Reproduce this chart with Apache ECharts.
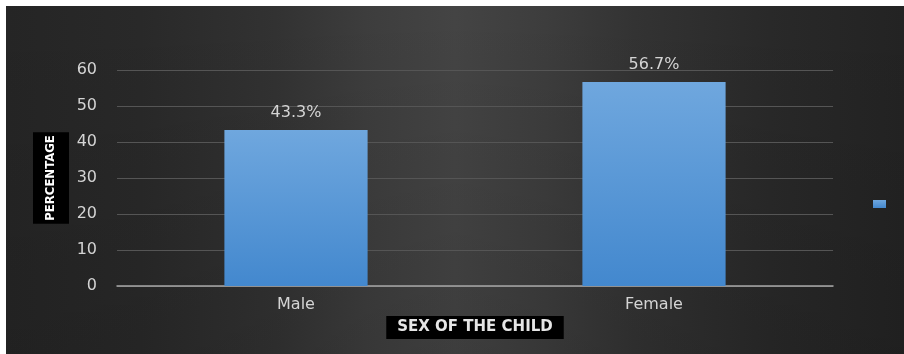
<!DOCTYPE html>
<html>
<head>
<meta charset="utf-8">
<script src="https://cdn.jsdelivr.net/npm/echarts@6/dist/echarts.min.js"></script>
<style>
  html, body { margin: 0; padding: 0; background: #fff; }
  #chart { width: 904px; height: 354px; }
</style>
</head>
<body>
<div id="chart"></div>
<script>
const categories = ['Male', 'Female'];
const percentages = [43.3, 56.7];
const yTicks = { min: 0, max: 60, interval: 10 };
const xTitle = 'SEX OF THE CHILD';
const yTitle = 'PERCENTAGE';

const chart = echarts.init(document.getElementById('chart'));
const textColor = '#d4d4d4';
const labelFont = 'DejaVu Sans';

const option = {
  backgroundColor: 'transparent',
  animation: false,
  graphic: [{
    type: 'rect',
    z: -10,
    silent: true,
    shape: { x: 6, y: 6, width: 898, height: 348 },
    style: {
      fill: new echarts.graphic.LinearGradient(0, 0, 1, 0, [
        { offset: 0, color: '#252525' },
        { offset: 0.15, color: '#292929' },
        { offset: 0.3, color: '#323232' },
        { offset: 0.4, color: '#3d3d3d' },
        { offset: 0.5, color: '#444444' },
        { offset: 0.6, color: '#3d3d3d' },
        { offset: 0.7, color: '#333333' },
        { offset: 0.85, color: '#292929' },
        { offset: 1, color: '#232323' },
      ]),
    },
  }, {
    type: 'rect',
    z: -9,
    silent: true,
    shape: { x: 6, y: 6, width: 898, height: 348 },
    style: {
      fill: new echarts.graphic.LinearGradient(0, 0, 0, 1, [
        { offset: 0, color: 'rgba(0,0,0,0)' },
        { offset: 1, color: 'rgba(0,0,0,0.1)' },
      ]),
    },
  }],
  grid: { left: 117, right: 71, top: 70, bottom: 68 },
  legend: {
    left: 873,
    top: 200,
    padding: 0,
    itemWidth: 13,
    itemHeight: 8,
    itemGap: 0,
    icon: 'rect',
    formatter: () => '',
    data: ['Percentage'],
  },
  xAxis: {
    type: 'category',
    data: categories,
    name: xTitle,
    nameLocation: 'middle',
    nameGap: 30,
    nameMoveOverlap: false,
    nameTextStyle: {
      color: '#e6e6e6',
      fontFamily: labelFont,
      fontWeight: 'bold',
      fontSize: 15,
      lineHeight: 15,
      backgroundColor: '#000',
      padding: [4, 11, 4, 11],
    },
    axisLine: { lineStyle: { color: '#a6a6a6', width: 1.5 } },
    axisTick: { show: false },
    axisLabel: { color: textColor, fontFamily: labelFont, fontSize: 16, margin: 11 },
  },
  yAxis: {
    type: 'value',
    min: yTicks.min,
    max: yTicks.max,
    interval: yTicks.interval,
    name: yTitle,
    nameLocation: 'middle',
    nameRotate: 90,
    nameGap: 48,
    nameMoveOverlap: false,
    nameTextStyle: {
      color: '#ffffff',
      fontFamily: '"DejaVu Sans Condensed", "Liberation Sans", sans-serif',
      fontWeight: 'bold',
      fontSize: 13,
      lineHeight: 16,
      backgroundColor: '#000',
      padding: [10, 3, 10, 3],
    },
    axisLine: { show: false },
    axisTick: { show: false },
    axisLabel: { color: textColor, fontFamily: labelFont, fontSize: 16, margin: 20 },
    splitLine: { lineStyle: { color: '#555555', width: 1 } },
  },
  series: [{
    name: 'Percentage',
    type: 'bar',
    data: percentages,
    barWidth: '40%',
    itemStyle: {
      color: new echarts.graphic.LinearGradient(0, 0, 0, 1, [
        { offset: 0, color: '#6fa7de' },
        { offset: 1, color: '#4388ce' },
      ]),
    },
    label: {
      show: true,
      position: 'top',
      distance: 9,
      color: textColor,
      fontFamily: labelFont,
      fontSize: 16,
      formatter: (p) => p.value.toFixed(1) + '%',
    },
  }],
};

chart.setOption(option);
</script>
</body>
</html>
